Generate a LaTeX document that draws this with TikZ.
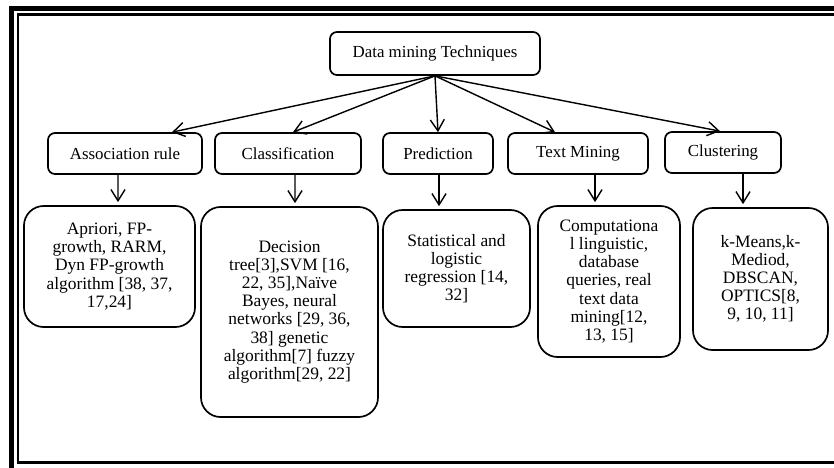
\documentclass[tikz,border=0pt]{standalone}
\usepackage{fontspec}
\setmainfont{Liberation Serif}
\usetikzlibrary{arrows.meta,calc}

\begin{document}
\begin{tikzpicture}[x=0.025cm,y=-0.025cm,
  >={Straight Barb[length=8pt,width=10pt]},
  head/.style={draw,line width=1.2pt,rounded corners=5pt,inner sep=0pt,
    font=\fontsize{12}{13}\selectfont},
  leaf/.style={draw,line width=1.2pt,rounded corners=14pt,inner sep=0pt,
    align=center,font=\fontsize{12.4}{12.9}\selectfont},
  link/.style={->,line width=1pt}]
          \useasboundingbox (0,0) rectangle (834,467);
          \clip (0,0) rectangle (834,467);
          \draw [line width=4pt] (840,8.5) -- (11.5,8.5) -- (11.5,470);
          \draw [line width=1.5pt] (840,14.5) -- (18,14.5) -- (18,462.5) -- (840,462.5);
          \node [head,minimum width=5.25cm,minimum height=1.075cm] (root) at (435,53.5) {Data mining Techniques};
          \node [head,minimum width=3.85cm,minimum height=1.025cm] (assoc) at (125,153.5) {Association rule};
          \node [head,minimum width=3.65cm,minimum height=1.025cm] (class) at (288,153.5) {Classification};
          \node [head,minimum width=2.75cm,minimum height=1.025cm] (pred) at (438,153.5) {Prediction};
          \node [head,minimum width=3.5cm,minimum height=1.025cm] (text) at (578,153.5) {Text Mining};
          \node [head,minimum width=2.9cm,minimum height=1.025cm] (clust) at (723,152.5) {Clustering};
          \node [leaf,minimum width=4.275cm,minimum height=3.025cm] (assocd) at (109.5,266.5)
          {Apriori, FP-\\growth, RARM,\\Dyn FP-growth\\algorithm [38, 37,\\17,24]};
          \node [leaf,minimum width=4.425cm,minimum height=5.25cm] (classd) at (289.5,312)
          {Decision\\tree[3],SVM [16,\\22, 35],Naïve\\Bayes, neural\\networks [29, 36,\\38] genetic\\algorithm[7] fuzzy\\algorithm[29, 22]};
          \node [leaf,minimum width=3.675cm,minimum height=2.925cm] (predd) at (456.5,268.5)
          {Statistical and\\logistic\\regression [14,\\32]};
          \node [leaf,minimum width=3.55cm,minimum height=3.775cm] (textd) at (609,281.5)
          {Computationa\\l linguistic,\\database\\queries, real\\text data\\mining[12,\\13, 15]};
          \node [leaf,minimum width=3.375cm,minimum height=3.55cm] (clustd) at (760.5,279)
          {k-Means,k-\\Mediod,\\DBSCAN,\\OPTICS[8,\\9, 10, 11]};
          \draw [link] (root.south) -- ($(assoc.north)+(47,0)$);
          \draw [link] (root.south) -- ($(class.north)+(5,0)$);
          \draw [link] (root.south) -- (pred.north);
          \draw [link] (root.south) -- ($(text.north)+(-23,0)$);
          \draw [link] (root.south) -- ($(clust.north)+(-3,0)$);
          \draw [link] ($(assoc.south)+(-7,0)$) -- ($(assocd.north)+(8.5,-3)$);
          \draw [link] ($(class.south)+(7,0)$) -- ($(classd.north)+(5.5,-3)$);
          \draw [link] ($(pred.south)+(1,0)$) -- ($(predd.north)+(-17.5,-3)$);
          \draw [link] ($(text.south)+(17,0)$) -- ($(textd.north)+(-14,-3)$);
          \draw [link] ($(clust.south)+(20,0)$) -- ($(clustd.north)+(-17.5,-3)$);
        \end{tikzpicture}
\end{document}
